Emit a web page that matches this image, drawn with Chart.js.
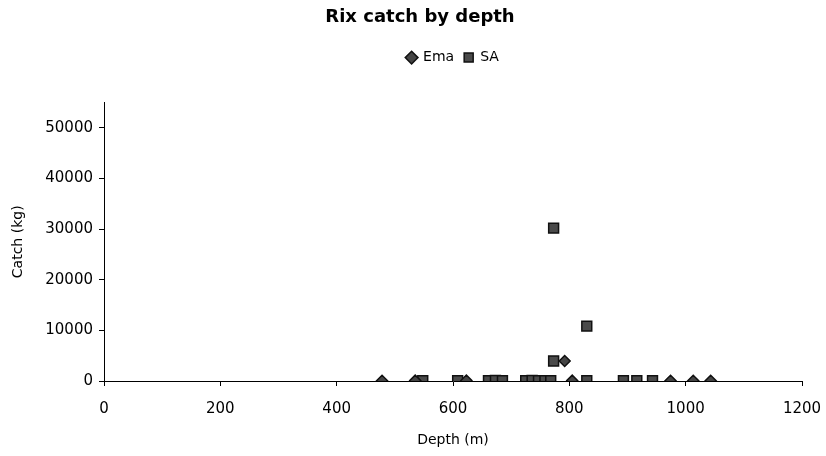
<!DOCTYPE html>
<html>
<head>
<meta charset="utf-8">
<title>Rix catch by depth</title>
<script src="https://cdn.jsdelivr.net/npm/chart.js@4.4.0/dist/chart.umd.min.js"></script>
<style>
    body { margin: 0; background: #fff; }
    canvas { display: block; }
</style>
</head>
<body>
<canvas id="rixChart" width="826" height="456"></canvas>
<script>
// depth (m) and catch (kg)
let emaDepth = [478, 535, 623, 792, 805, 974, 1013, 1043];
let emaCatch = [60, 80, 90, 3950, 70, 60, 50, 40];

let saDepth = [548, 608, 661, 673, 685, 725, 736, 747, 758, 768, 773, 773, 830, 830, 893, 916, 943];
let saCatch = [60, 80, 50, 90, 70, 40, 100, 60, 80, 50, 3950, 30200, 10850, 70, 60, 40, 50];

let xTicks = [0, 200, 400, 600, 800, 1000, 1200];
let yTicks = [0, 10000, 20000, 30000, 40000, 50000];

let seriesNames = ['Ema', 'SA'];

function toPoints(xs, ys) {
    return xs.map((x, i) => ({x: x, y: ys[i]}));
}

Chart.defaults.font.family = "'DejaVu Sans', sans-serif";
Chart.defaults.color = '#000';

let canvas = document.getElementById('rixChart');
let rixChart = new Chart(canvas, {
    type: 'scatter',
    data: {
        datasets: [{
            label: seriesNames[0],
            data: toPoints(emaDepth, emaCatch),
            pointStyle: 'rectRot',
            pointRadius: 5.5,
            pointHoverRadius: 5.5,
            pointBorderWidth: 1.5,
            backgroundColor: '#444444',
            borderColor: '#111111'
        }, {
            label: seriesNames[1],
            data: toPoints(saDepth, saCatch),
            pointStyle: 'rect',
            pointRadius: 7,
            pointHoverRadius: 7,
            pointBorderWidth: 1.5,
            backgroundColor: '#4a4a4a',
            borderColor: '#111111'
        }]
    },
    options: {
        responsive: false,
        animation: false,
        layout: {
            padding: {left: 38, right: 24, top: 0, bottom: 0}
        },
        plugins: {
            title: {
                display: true,
                text: 'Rix catch by depth',
                font: {size: 18, weight: 'bold'},
                color: '#000',
                padding: {top: 7, bottom: 12}
            },
            legend: {
                display: true,
                position: 'top',
                fullSize: false,
                labels: {
                    usePointStyle: true,
                    boxWidth: 9,
                    boxHeight: 9,
                    padding: 10,
                    font: {size: 14},
                    color: '#000'
                }
            },
            // empty spacer between the legend and the plot
            subtitle: {
                display: true,
                text: '',
                weight: 500,
                font: {size: 12},
                padding: {top: 0, bottom: 13.6}
            },
            tooltip: {enabled: false}
        },
        scales: {
            x: {
                type: 'linear',
                min: xTicks[0],
                max: xTicks[xTicks.length - 1],
                afterBuildTicks: function (scale) {
                    scale.ticks = xTicks.map(v => ({value: v}));
                },
                afterFit: function (scale) {
                    scale.height = 75;
                    scale.paddingLeft = 0;
                    scale.paddingRight = 0;
                },
                grid: {
                    drawOnChartArea: false,
                    drawTicks: true,
                    tickLength: 5,
                    color: '#000'
                },
                border: {display: true, color: '#000', width: 1},
                ticks: {
                    font: {size: 15},
                    color: '#000',
                    padding: 14,
                    maxRotation: 0,
                    callback: v => String(v)
                },
                title: {
                    display: true,
                    text: 'Depth (m)',
                    font: {size: 14},
                    color: '#000',
                    padding: {top: 0, bottom: 7}
                }
            },
            y: {
                type: 'linear',
                min: 0,
                max: 55000,
                afterBuildTicks: function (scale) {
                    scale.ticks = yTicks.map(v => ({value: v}));
                },
                afterFit: function (scale) {
                    scale.width = 66;
                    scale.paddingTop = 0;
                    scale.paddingBottom = 0;
                },
                grid: {
                    drawOnChartArea: false,
                    drawTicks: true,
                    tickLength: 5,
                    color: '#000'
                },
                border: {display: true, color: '#000', width: 1},
                ticks: {
                    font: {size: 15},
                    color: '#000',
                    padding: 6,
                    callback: v => String(v)
                },
                title: {
                    display: true,
                    text: 'Catch (kg)',
                    font: {size: 14},
                    color: '#000',
                    padding: {top: -28, bottom: 0}
                }
            }
        }
    }
});
</script>
</body>
</html>
